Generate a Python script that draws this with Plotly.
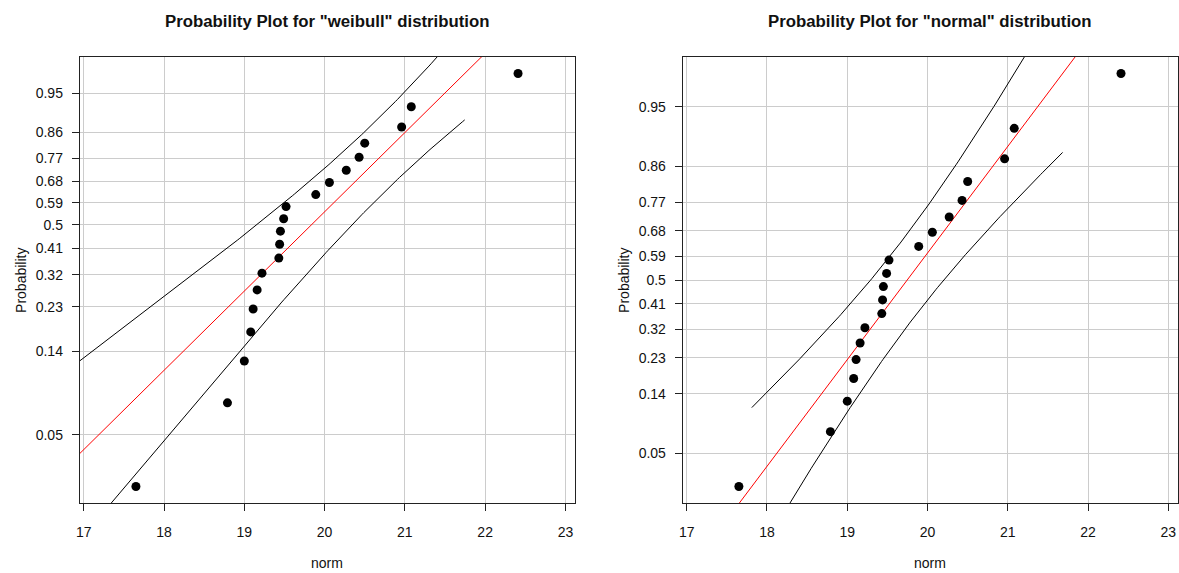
import numpy as np
import plotly.graph_objects as go
from statistics import NormalDist

# Sample (20 measurements)
values = [17.65, 18.79, 19.00, 19.08, 19.11, 19.16, 19.22, 19.43, 19.44, 19.45,
          19.49, 19.52, 19.89, 20.06, 20.27, 20.43, 20.50, 20.96, 21.08, 22.41]

prob_ticks = [0.05, 0.14, 0.23, 0.32, 0.41, 0.5, 0.59, 0.68, 0.77, 0.86, 0.95]
prob_labels = ["0.05", "0.14", "0.23", "0.32", "0.41", "0.5", "0.59", "0.68", "0.77", "0.86", "0.95"]
x_ticks = [17, 18, 19, 20, 21, 22, 23]
x_range = [16.95, 23.12]
alpha = 0.05

titles = ['Probability Plot for "weibull" distribution',
          'Probability Plot for "normal" distribution']
x_label = "norm"
y_label = "Probability"

W, H = 1179, 573
ND = NormalDist()

xs = np.sort(np.asarray(values, dtype=float))
n = len(xs)
pp = (np.arange(1, n + 1) - 0.5) / n          # plotting positions
zcrit = ND.inv_cdf(1 - alpha / 2)


def qz(p):
    return np.array([ND.inv_cdf(float(v)) for v in np.atleast_1d(p)])


# ---------- normal fit (maximum likelihood) ----------
mu = xs.mean()
sigma = np.sqrt(np.mean((xs - mu) ** 2))


def q_norm(p):
    return mu + sigma * qz(p)


def norm_bands():
    xg = np.linspace(q_norm(pp[0])[0], q_norm(pp[-1])[0], 200)
    zg = (xg - mu) / sigma
    se = sigma * np.sqrt((1 + zg ** 2 / 2) / n)
    return xg, xg + zcrit * se, xg - zcrit * se


# ---------- weibull fit (maximum likelihood) ----------
lx = np.log(xs)


def shape_eq(k):
    xk = xs ** k
    return np.sum(xk * lx) / np.sum(xk) - 1 / k - lx.mean()


lo, hi = 0.5, 200.0
for _ in range(200):
    mid = 0.5 * (lo + hi)
    if shape_eq(lo) * shape_eq(mid) <= 0:
        hi = mid
    else:
        lo = mid
k_hat = 0.5 * (lo + hi)
s_hat = np.mean(xs ** k_hat) ** (1 / k_hat)
u_hat, b_hat = np.log(s_hat), 1 / k_hat


def nll(u, b):
    z = (lx - u) / b
    return -np.sum(-np.log(b) - lx + z - np.exp(z))


def hessian(f, p, h):
    p = np.asarray(p, float)
    m = len(p)
    Hm = np.zeros((m, m))
    for i in range(m):
        for j in range(m):
            ei = np.zeros(m); ej = np.zeros(m)
            ei[i] = h[i]; ej[j] = h[j]
            Hm[i, j] = (f(*(p + ei + ej)) - f(*(p + ei - ej))
                        - f(*(p - ei + ej)) + f(*(p - ei - ej))) / (4 * h[i] * h[j])
    return Hm


V = np.linalg.inv(hessian(nll, [u_hat, b_hat], [1e-4, 1e-5]))


def q_weib(p):
    p = np.atleast_1d(p)
    return s_hat * (-np.log(1 - p)) ** (1 / k_hat)


def weib_bands():
    xg = np.linspace(q_weib(pp[0])[0], q_weib(pp[-1])[0], 200)
    w = (np.log(xg) - u_hat) / b_hat
    var = V[0, 0] + 2 * w * V[0, 1] + w ** 2 * V[1, 1]
    sd = np.sqrt(np.maximum(var, 0))
    return xg, xg * np.exp(zcrit * sd), xg * np.exp(-zcrit * sd)


def y_range(qf):
    a, b = qf(pp[0])[0], qf(pp[-1])[0]
    d = 0.04 * (b - a)
    return [a - d, b + d]


panels = [
    dict(q=q_weib, bands=weib_bands, left=76, right=573),
    dict(q=q_norm, bands=norm_bands, left=681, right=1178),
]
top, bottom = 57, 503

fig = go.Figure()
annotations = []
for i, pan in enumerate(panels):
    sfx = "" if i == 0 else str(i + 1)
    xa, ya = "x" + sfx, "y" + sfx
    q = pan["q"]
    xg, up, lw = pan["bands"]()

    fig.add_trace(go.Scatter(x=xg, y=up, mode="lines", line=dict(color="black", width=1),
                             xaxis=xa, yaxis=ya, hoverinfo="skip"))
    fig.add_trace(go.Scatter(x=xg, y=lw, mode="lines", line=dict(color="black", width=1),
                             xaxis=xa, yaxis=ya, hoverinfo="skip"))
    fig.add_trace(go.Scatter(x=x_range, y=x_range, mode="lines", line=dict(color="red", width=1),
                             xaxis=xa, yaxis=ya, hoverinfo="skip"))
    fig.add_trace(go.Scatter(x=xs, y=q(pp), mode="markers",
                             marker=dict(color="black", size=9),
                             xaxis=xa, yaxis=ya))

    common = dict(showline=True, mirror=True, linecolor="#222", linewidth=1,
                  showgrid=True, gridcolor="#cccccc", gridwidth=1, zeroline=False,
                  ticks="outside", ticklen=7, tickcolor="#222",
                  tickfont=dict(size=14, color="#111"))
    fig.layout["xaxis" + sfx] = dict(
        domain=[pan["left"] / W, pan["right"] / W], anchor=ya,
        range=x_range, tickvals=x_ticks, ticklabelstandoff=9, **common)
    fig.layout["yaxis" + sfx] = dict(
        domain=[(H - bottom) / H, (H - top) / H], anchor=xa,
        range=y_range(q), tickvals=list(q(np.array(prob_ticks))),
        ticktext=prob_labels, ticklabelstandoff=6, **common)

    cx = (pan["left"] + pan["right"]) / 2 / W
    label_common = dict(xref="paper", yref="paper", showarrow=False,
                        xanchor="center", yanchor="middle")
    annotations.append(dict(text="<b>%s</b>" % titles[i], x=cx, y=(H - 22) / H,
                            font=dict(size=16.8, color="#111"), **label_common))
    annotations.append(dict(text=x_label, x=cx, y=(H - 563) / H,
                            font=dict(size=14, color="#111"), **label_common))
    annotations.append(dict(text=y_label, x=(pan["left"] - 59) / W, y=(H - 280) / H,
                            textangle=-90, font=dict(size=14, color="#111"), **label_common))

fig.update_layout(width=W, height=H, margin=dict(l=0, r=0, t=0, b=0),
                  paper_bgcolor="white", plot_bgcolor="white", showlegend=False,
                  font=dict(family="Liberation Sans, Arial, sans-serif", size=14, color="#111"),
                  annotations=annotations)

fig.write_html("out.html")
